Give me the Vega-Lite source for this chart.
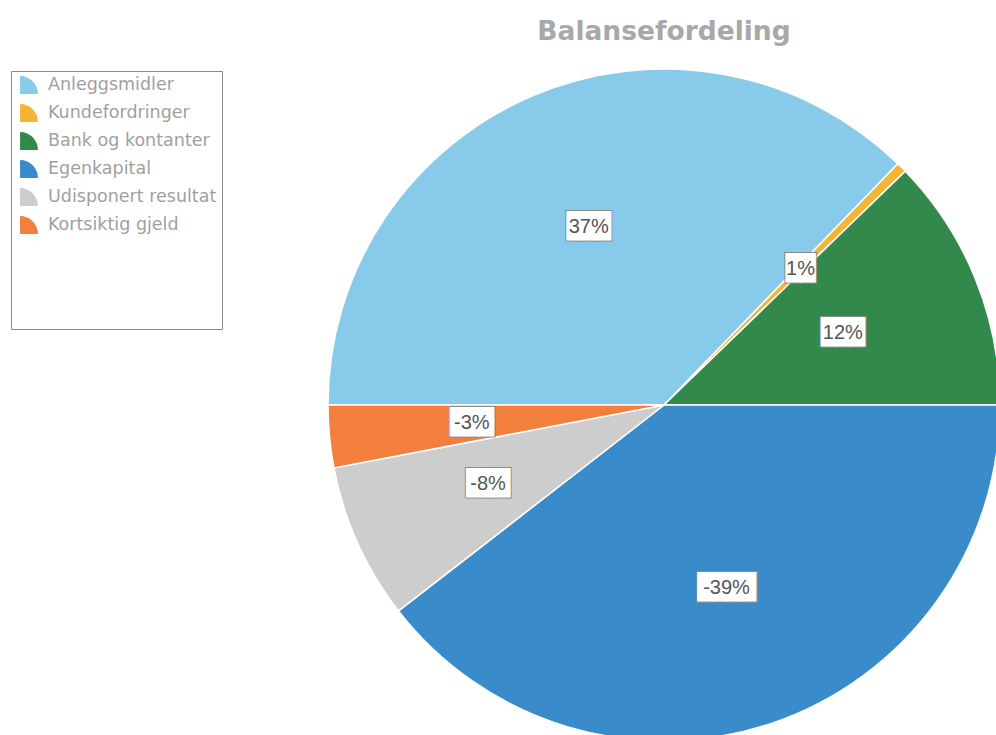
{
  "$schema": "https://vega.github.io/schema/vega-lite/v6.json",
  "width": 672,
  "height": 672,
  "autosize": {"type": "none"},
  "padding": {"left": 328, "top": 69, "right": 0, "bottom": 0},
  "background": "white",
  "title": {
    "text": "Balansefordeling",
    "font": "DejaVu Sans",
    "fontSize": 26.5,
    "fontWeight": "bold",
    "color": "#a8a8a8",
    "anchor": "middle",
    "offset": 21
  },
  "config": {"view": {"stroke": null}},
  "data": {
    "values": [
      {"kategori": "Anleggsmidler", "andel": 37.25, "etikett": "37%", "rekkefolge": 1},
      {"kategori": "Kundefordringer", "andel": 0.5, "etikett": "1%", "rekkefolge": 2},
      {"kategori": "Bank og kontanter", "andel": 12.25, "etikett": "12%", "rekkefolge": 3},
      {"kategori": "Egenkapital", "andel": 39.5, "etikett": "-39%", "rekkefolge": 4},
      {"kategori": "Udisponert resultat", "andel": 7.5, "etikett": "-8%", "rekkefolge": 5},
      {"kategori": "Kortsiktig gjeld", "andel": 3.0, "etikett": "-3%", "rekkefolge": 6}
    ]
  },
  "encoding": {
    "theta": {
      "field": "andel",
      "type": "quantitative",
      "stack": true,
      "scale": {"range": [-1.5707963, 4.712389]}
    },
    "order": {"field": "rekkefolge", "type": "quantitative"}
  },
  "layer": [
    {
      "mark": {"type": "arc", "stroke": "white", "strokeWidth": 1.5},
      "encoding": {
        "color": {
          "field": "kategori",
          "type": "nominal",
          "scale": {
            "domain": ["Anleggsmidler", "Kundefordringer", "Bank og kontanter", "Egenkapital", "Udisponert resultat", "Kortsiktig gjeld"],
            "range": ["#88caea", "#f4b532", "#33894c", "#3a8bc9", "#cdcdcd", "#f27f3d"]
          },
          "legend": {
            "orient": "none",
            "legendX": -317,
            "legendY": 2,
            "title": "\u00a0",
            "titleOrient": "bottom",
            "titleFontSize": 10,
            "titlePadding": 80,
            "strokeColor": "#8a8a8a",
            "fillColor": "white",
            "padding": 5,
            "symbolOffset": 4,
            "symbolType": "M -1 1 L -1 -1 A 2 2 0 0 1 1 1 Z",
            "symbolSize": 320,
            "symbolStrokeWidth": 0,
            "labelFont": "DejaVu Sans",
            "labelFontSize": 17.5,
            "labelColor": "#a0a0a0",
            "labelOffset": 10,
            "rowPadding": 10,
            "labelLimit": 300
          }
        }
      }
    },
    {
      "mark": {
        "type": "text",
        "font": "DejaVu Sans Mono",
        "fontSize": 24,
        "baseline": "middle",
        "align": "center",
        "fill": "#8a8a8a",
        "stroke": "#8a8a8a",
        "strokeWidth": 3,
        "text": {"expr": "pad('', length(datum.etikett), '\u2588')"}
      },
      "encoding": {"radius": {"value": 193}}
    },
    {
      "mark": {
        "type": "text",
        "font": "DejaVu Sans Mono",
        "fontSize": 24,
        "baseline": "middle",
        "align": "center",
        "fill": "white",
        "stroke": "white",
        "strokeWidth": 1,
        "text": {"expr": "pad('', length(datum.etikett), '\u2588')"}
      },
      "encoding": {"radius": {"value": 193}}
    },
    {
      "mark": {
        "type": "text",
        "font": "Liberation Sans",
        "fontSize": 20,
        "baseline": "middle",
        "align": "center",
        "fill": "#555555"
      },
      "encoding": {
        "radius": {"value": 193},
        "text": {"field": "etikett", "type": "nominal"}
      }
    }
  ]
}
